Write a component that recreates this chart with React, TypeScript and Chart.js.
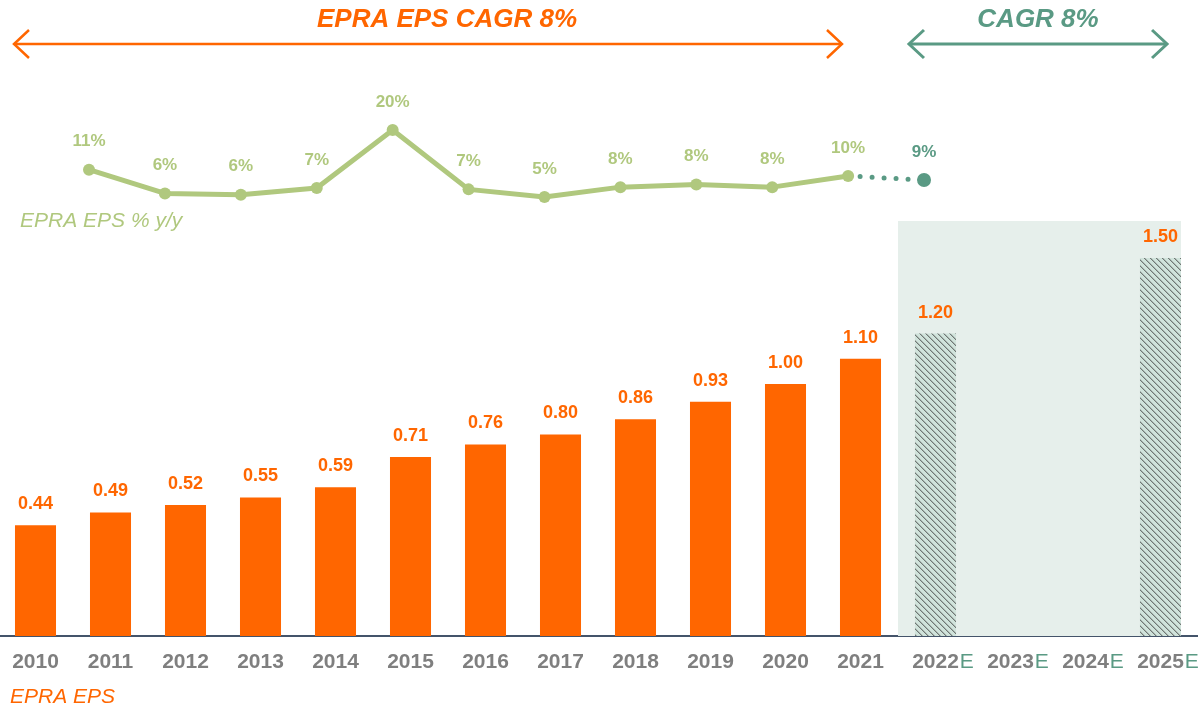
import React, { useEffect, useRef } from "react";
import { Chart, registerables } from "chart.js";

Chart.register(...registerables);

// ---------- data ----------
const YEARS = [
  "2010", "2011", "2012", "2013", "2014", "2015", "2016", "2017",
  "2018", "2019", "2020", "2021", "2022E", "2023E", "2024E", "2025E",
];
const EPS: (number | null)[] = [
  0.44, 0.49, 0.52, 0.55, 0.59, 0.71, 0.76, 0.8, 0.86, 0.93, 1.0, 1.1, 1.2, null, null, 1.5,
];
const GROWTH: (number | null)[] = [
  null, 11.4, 6.1, 5.8, 7.3, 20.3, 7.0, 5.3, 7.5, 8.1, 7.5, 10.0, 9.1, null, null, null,
];
const FORECAST = YEARS.map((y) => y.endsWith("E"));

const TITLE_LEFT = "EPRA EPS CAGR 8%";
const TITLE_RIGHT = "CAGR 8%";
const LINE_LABEL = "EPRA EPS % y/y";
const BAR_LABEL = "EPRA EPS";

// ---------- styles ----------
const ORANGE = "#ff6600";
const GREEN = "#b0c87e";
const TEAL = "#5a9a84";
const BAND = "#e6efeb";
const GRAY = "#7f7f7f";
const AXIS = "#44546a";
const FONT = "'Liberation Sans', Arial, sans-serif";
const BAND_TOP = 1.647;

function makeHatch(): CanvasPattern | string {
  const c = document.createElement("canvas");
  c.width = 6;
  c.height = 6;
  const g = c.getContext("2d");
  if (!g) return "#cfe2da";
  g.fillStyle = "#d0e3db";
  g.fillRect(0, 0, 6, 6);
  g.fillStyle = "#6f7874";
  for (let k = 0; k < 6; k++) {
    g.fillRect(k, k, 1, 1);
  }
  g.fillStyle = "#a9b5b0";
  for (let k = 0; k < 6; k++) {
    g.fillRect((k + 1) % 6, k, 1, 1);
  }
  const p = g.createPattern(c, "repeat");
  return p || "#cfe2da";
}

function drawArrow(ctx: CanvasRenderingContext2D, x1: number, x2: number, y: number, color: string, w: number) {
  ctx.save();
  ctx.strokeStyle = color;
  ctx.lineWidth = w;
  ctx.lineCap = "butt";
  ctx.beginPath();
  ctx.moveTo(x1, y);
  ctx.lineTo(x2, y);
  ctx.stroke();
  ctx.beginPath();
  ctx.moveTo(x1 + 15, y - 14);
  ctx.lineTo(x1, y);
  ctx.lineTo(x1 + 15, y + 14);
  ctx.moveTo(x2 - 15, y - 14);
  ctx.lineTo(x2, y);
  ctx.lineTo(x2 - 15, y + 14);
  ctx.stroke();
  ctx.restore();
}

const overlay = {
  id: "overlay",
  beforeDatasetsDraw(chart: any) {
    const { ctx } = chart;
    const x = chart.scales.x;
    const y = chart.scales.y;
    const bars = chart.getDatasetMeta(0).data;
    const first = FORECAST.indexOf(true);
    const last = FORECAST.length - 1;
    const left = (x.getPixelForValue(first - 1) + x.getPixelForValue(first)) / 2;
    const right = bars[last].x + bars[last].width / 2;
    const top = y.getPixelForValue(BAND_TOP);
    const bottom = y.getPixelForValue(0);
    ctx.save();
    ctx.fillStyle = BAND;
    ctx.fillRect(left, top, right - left, bottom - top);
    ctx.restore();
  },
  afterDraw(chart: any) {
    const { ctx } = chart;
    const x = chart.scales.x;
    const bars = chart.getDatasetMeta(0).data;
    const pts = chart.getDatasetMeta(1).data;
    ctx.save();
    // bar value labels
    ctx.font = `bold 18px ${FONT}`;
    ctx.textAlign = "center";
    ctx.textBaseline = "middle";
    ctx.fillStyle = ORANGE;
    EPS.forEach((v, i) => {
      if (v == null) return;
      const b = bars[i];
      ctx.fillText(v.toFixed(2), b.x, b.y - 21);
    });
    // growth labels
    ctx.font = `bold 17px ${FONT}`;
    const lineVals = GROWTH.filter((v) => v != null) as number[];
    lineVals.forEach((v, i) => {
      const p = pts[i];
      ctx.fillStyle = i === lineVals.length - 1 ? TEAL : GREEN;
      ctx.fillText(`${Math.round(v)}%`, p.x, p.y - 28);
    });
    // x tick labels
    YEARS.forEach((lab, i) => {
      const cx = x.getPixelForValue(i);
      const year = lab.replace("E", "");
      ctx.font = `bold 21px ${FONT}`;
      ctx.textAlign = "center";
      ctx.fillStyle = GRAY;
      ctx.fillText(year, cx, 662);
      if (lab.endsWith("E")) {
        const w = ctx.measureText(year).width;
        ctx.font = `21px ${FONT}`;
        ctx.textAlign = "left";
        ctx.fillStyle = TEAL;
        ctx.fillText("E", cx + w / 2 + 1, 662);
      }
    });
    // series captions
    ctx.textAlign = "left";
    ctx.font = `italic 21px ${FONT}`;
    ctx.fillStyle = GREEN;
    ctx.fillText(LINE_LABEL, 22, 221);
    ctx.fillStyle = ORANGE;
    ctx.fillText(BAR_LABEL, 12, 697);
    // arrows and titles
    const bw = bars[0].width;
    const oL = bars[0].x - bw / 2 - 1;
    const oR = bars[11].x - bw / 2 + 2;
    const tL = bars[12].x - bw / 2 - 6;
    const tR = bars[15].x + bw / 2 - 14;
    drawArrow(ctx, oL, oR, 44, ORANGE, 2.5);
    drawArrow(ctx, tL, tR, 44, TEAL, 3);
    ctx.font = `italic bold 26px ${FONT}`;
    ctx.textAlign = "center";
    ctx.fillStyle = ORANGE;
    ctx.fillText(TITLE_LEFT, (oL + oR) / 2 + 19, 20);
    ctx.fillStyle = TEAL;
    ctx.fillText(TITLE_RIGHT, (tL + tR) / 2, 20);
    ctx.restore();
  },
};

export default function App() {
  const ref = useRef<HTMLCanvasElement | null>(null);
  useEffect(() => {
    if (!ref.current) return;
    const hatch = makeHatch();
    const lineData = GROWTH.map((v, i) => (v == null ? null : { x: i, y: v })).filter(Boolean) as {
      x: number;
      y: number;
    }[];
    const lastPt = lineData.length - 1;
    const chart = new Chart(ref.current, {
      type: "bar",
      data: {
        labels: YEARS,
        datasets: [
          {
            type: "bar",
            label: BAR_LABEL,
            data: EPS as any,
            backgroundColor: FORECAST.map((f) => (f ? hatch : ORANGE)) as any,
            borderWidth: 0,
            categoryPercentage: 1,
            barPercentage: 0.547,
            grouped: false,
            xAxisID: "x",
            yAxisID: "y",
            order: 2,
          },
          {
            type: "line",
            label: LINE_LABEL,
            data: lineData as any,
            xAxisID: "xl",
            yAxisID: "y2",
            borderColor: GREEN,
            borderWidth: 5,
            borderCapStyle: "round",
            borderJoinStyle: "round",
            pointRadius: (c: any) => (c.dataIndex === lastPt ? 7 : 6),
            pointBackgroundColor: (c: any) => (c.dataIndex === lastPt ? TEAL : GREEN),
            pointBorderWidth: 0,
            segment: {
              borderColor: (c: any) => (c.p1DataIndex === lastPt ? TEAL : GREEN),
              borderDash: (c: any) => (c.p1DataIndex === lastPt ? [0, 12] : undefined),
            },
            order: 1,
          } as any,
        ],
      },
      options: {
        animation: false,
        responsive: false,
        maintainAspectRatio: false,
        layout: { padding: 0, autoPadding: false },
        plugins: { legend: { display: false }, tooltip: { enabled: false } },
        scales: {
          x: {
            type: "category",
            offset: true,
            grid: { display: false },
            border: { display: true, color: AXIS, width: 2 },
            ticks: { display: false },
            afterFit: (s: any) => {
              s.height = 73;
            },
          },
          xl: {
            type: "linear",
            display: false,
            offset: false,
            min: -0.199,
            max: 15.609,
          },
          y: { display: false, min: 0, max: 2.524 },
          y2: { display: false, min: -93.0, max: 49.4 },
        },
      } as any,
      plugins: [overlay],
    });
    return () => chart.destroy();
  }, []);
  return (
    <div style={{ position: "fixed", left: -2, top: 0, width: 1200, height: 709, background: "#fff" }}>
      <canvas ref={ref} width={1200} height={709} />
    </div>
  );
}
